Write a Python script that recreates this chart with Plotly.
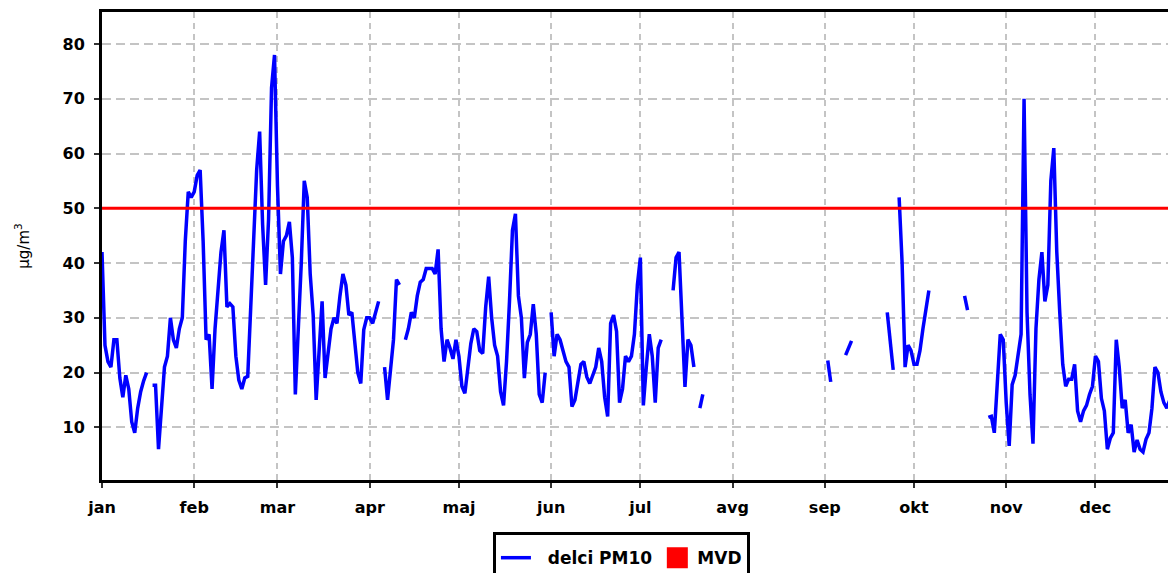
import pandas as pd
import plotly.graph_objects as go

# Daily PM10 values (µg/m³), one list per month, None = missing
jan = [42, 25, 22, 21, 26, 26, 19, 15.5, 19.5, 17, 11, 9, 13.5, 16.5, 18.5, 20, None, 17.7, 17.7, 6,
       13, 21, 23, 30, 26, 24.5, 28, 30, 44, 53, 52]
feb = [53, 56, 57, 44, 26, 27, 17, 28, 34.5, 42, 46, 32, 32.6, 32, 23, 18.6, 17, 19, 19.3, 31,
       43, 57, 64, 47, 36, 48, 72, 78]
mar = [54, 38, 44, 45, 47.5, 41, 16, 27, 40, 55, 52, 38, 30.5, 15, 23, 33, 19, 24, 28, 30,
       29, 34, 38, 36, 30.5, 31, 26, 20, 18, 27.8, 30]
apr = [30, 29, 31, 33, None, 21, 15, 20.5, 26, 37, 36, None, 26, 28, 31, 30, 34, 36.5, 37, 39,
       39, 39, 38, 42.5, 28, 22, 26, 24.5, 22.5, 26]
maj = [23, 17.5, 16.2, 21, 25.3, 28, 27.5, 24, 23.5, 32, 37.5, 30, 25, 23, 16.5, 14, 22, 33, 46, 49,
       34, 30, 19, 25.5, 27, 32.5, 27, 16, 14.5, 20, None]
jun = [31, 23, 27, 26, 24, 22, 21, 13.8, 15, 18, 21.5, 22, 19.2, 18, 19.5, 21, 24.5, 22, 15.5, 12,
       29, 30.5, 27.5, 14.5, 17, 23, 22, 23, 27, 36]
jul = [41, 14, 21, 27, 23, 14.5, 24.5, 26, None, None, None, 35, 41, 42, 29, 17.4, 26, 25, 21, None,
       13.5, 16, None, None, None, None, None, None, None, None, None]
avg = [None] * 31
sep = [None, 22.2, 18.3, None, None, None, None, 23.2, 24.5, 25.8,
       None, None, None, None, None, None, None, None, None, None,
       None, 31, 26, 20.5, None, 52, 40, 21, 25, 24]
okt = [21.5, 21.5, 24, 28, 32, 35, None, None, None, None,
       None, None, None, None, None, None, None, 34, 31.4, None,
       None, None, None, None, None, 11.8, 12, 9, 19, 27, 26]
nov = [14.5, 6.6, 17.8, 19.5, 23, 27, 70, 31, 16, 7, 28, 37, 42, 33, 36, 55, 61, 42, 31, 21.5,
       17.5, 18.8, 18.8, 21.5, 13, 11, 13, 14, 16, 17.5]
dec = [23, 22, 15.3, 13, 6, 8, 9, 26, 21, 13.5, 15, 9, 10.5, 5.5, 7.7, 6, 5.5, 7.8, 9, 13.5,
       21, 20, 16.5, 14.5, 13.5, 15, 12.5, 10, None, None, None]

pm10 = jan + feb + mar + apr + maj + jun + jul + avg + sep + okt + nov + dec
dates = pd.date_range("2019-01-01", "2019-12-31", freq="D")

mvd_value = 50
month_starts = pd.date_range("2019-01-01", "2019-12-01", freq="MS")
month_labels = ["jan", "feb", "mar", "apr", "maj", "jun", "jul", "avg", "sep", "okt", "nov", "dec"]
y_ticks = [10, 20, 30, 40, 50, 60, 70, 80]

FONT = "DejaVu Sans"
NBSP = "\u00a0"

fig = go.Figure()
fig.add_trace(go.Scatter(
    x=dates, y=pm10, mode="lines", name=NBSP * 2 + "delci PM10",
    line=dict(color="#0000ff", width=3.5), connectgaps=False,
))
fig.add_trace(go.Scatter(
    x=[dates[0], dates[-1]], y=[mvd_value, mvd_value], mode="lines",
    line=dict(color="#ff0000", width=3), showlegend=False, hoverinfo="skip",
))
fig.add_trace(go.Scatter(
    x=[None], y=[None], mode="markers", name="MVD",
    marker=dict(symbol="square", size=16, color="#ff0000", line=dict(color="#ff0000", width=5)),
))

fig.update_layout(
    width=1168, height=565,
    margin=dict(l=94, r=0, t=4, b=93, autoexpand=False),
    paper_bgcolor="white", plot_bgcolor="white",
    font=dict(family=FONT, color="black"),
    showlegend=True,
    legend=dict(
        orientation="h", x=0.364, y=-0.111, xanchor="left", yanchor="top",
        bordercolor="black", borderwidth=3, bgcolor="white",
        font=dict(family=FONT, size=17, color="black", weight="bold"),
        title=dict(text=NBSP, side="top", font=dict(family=FONT, size=4)),
    ),
    xaxis=dict(
        type="date", range=["2019-01-01", "2019-12-28 02:00"],
        tickvals=month_starts, ticktext=month_labels,
        showgrid=True, gridcolor="#c4c4c4", gridwidth=2, griddash="6px,5px",
        showline=True, linecolor="black", linewidth=3, mirror=True,
        ticks="outside", ticklen=5, tickwidth=2, tickcolor="#333333",
        tickfont=dict(family=FONT, size=16, color="black", weight="bold"),
        ticklabelstandoff=6, zeroline=False,
    ),
    yaxis=dict(
        range=[0.38, 85.85], tickvals=y_ticks,
        showgrid=True, gridcolor="#c4c4c4", gridwidth=2, griddash="9px,5px",
        showline=True, linecolor="black", linewidth=3, mirror=False,
        ticks="outside", ticklen=5, tickwidth=2, tickcolor="#333333",
        tickfont=dict(family=FONT, size=16, color="black", weight="bold"),
        ticklabelstandoff=6, zeroline=False,
        title=dict(text="µg/m<sup>3</sup>", font=dict(family=FONT, size=15, color="black"), standoff=30),
    ),
)

fig.write_html("out.html")
